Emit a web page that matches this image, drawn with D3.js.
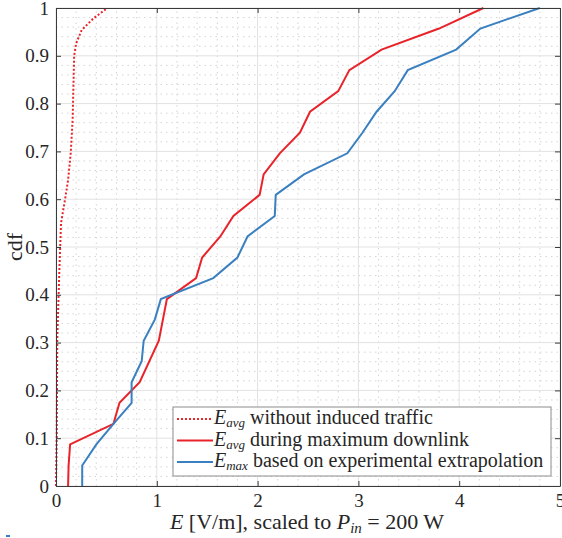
<!DOCTYPE html>
<html>
<head>
<meta charset="utf-8">
<script src="https://cdn.jsdelivr.net/npm/d3@7"></script>
<style>
  html, body { margin: 0; padding: 0; background: #fff; }
  svg { display: block; }
  svg text { font-family: 'Liberation Serif', serif; }
</style>
</head>
<body>
<div id="chart"></div>
<script>
const idleE   = [0.0, 0.007, 0.013, 0.033, 0.05, 0.09, 0.12, 0.146, 0.165, 0.18, 0.20, 0.255, 0.37, 0.51];
const idleCdf = [0.0, 0.10, 0.31, 0.45, 0.55, 0.60, 0.64, 0.696, 0.766, 0.90, 0.926, 0.954, 0.978, 1.0];

const dlE   = [0.12, 0.125, 0.14, 0.57, 0.63, 0.83, 1.02, 1.10, 1.39, 1.45, 1.63, 1.76, 2.02, 2.06, 2.22, 2.42, 2.52, 2.80, 2.91, 3.23, 3.80, 4.24];
const dlCdf = [0.0, 0.043, 0.087, 0.130, 0.174, 0.217, 0.304, 0.391, 0.435, 0.478, 0.522, 0.565, 0.609, 0.652, 0.696, 0.739, 0.783, 0.826, 0.870, 0.913, 0.957, 1.0];

const maxE   = [0.26, 0.26, 0.40, 0.57, 0.75, 0.75, 0.85, 0.87, 0.98, 1.04, 1.56, 1.80, 1.90, 2.17, 2.18, 2.46, 2.89, 3.04, 3.18, 3.36, 3.49, 3.97, 4.21, 4.80];
const maxCdf = [0.0, 0.043, 0.087, 0.130, 0.174, 0.217, 0.261, 0.304, 0.348, 0.391, 0.435, 0.478, 0.522, 0.565, 0.609, 0.652, 0.696, 0.739, 0.783, 0.826, 0.870, 0.913, 0.957, 1.0];

const xTicks = [0, 1, 2, 3, 4, 5];
const yTicks = [0, 0.1, 0.2, 0.3, 0.4, 0.5, 0.6, 0.7, 0.8, 0.9, 1];

const series = [
  { E: idleE, cdf: idleCdf, color: '#e8232a', dash: '2,2', sub: 'avg', label: ' without induced traffic' },
  { E: dlE,   cdf: dlCdf,   color: '#e8232a', dash: null,  sub: 'avg', label: ' during maximum downlink' },
  { E: maxE,  cdf: maxCdf,  color: '#3a80c0', dash: null,  sub: 'max', label: ' based on experimental extrapolation' }
];

const FONT = 'Liberation Serif, serif';
const W = 562, H = 538;
const M = { top: 8, right: 2, bottom: 52, left: 56 };

const svg = d3.select('#chart').append('svg').attr('width', W).attr('height', H)
  .attr('font-family', FONT);

const x = d3.scaleLinear().domain([0, 5]).range([M.left, W - M.right]);
const y = d3.scaleLinear().domain([0, 1]).range([H - M.bottom, M.top]);
const x0 = x.range()[0], x1 = x.range()[1], y0 = y.range()[0], y1 = y.range()[1];

// Minor grid (dotted)
const xMinor = d3.range(0, 5.0001, 0.2).filter(v => Math.abs(v - Math.round(v)) > 1e-6);
const yMinor = d3.range(0, 1.0001, 0.02).filter(v => Math.abs(v * 10 - Math.round(v * 10)) > 1e-6);
const grid = svg.append('g');
grid.selectAll('.gx-minor').data(xMinor).join('line')
  .attr('x1', d => x(d)).attr('x2', d => x(d)).attr('y1', y0).attr('y2', y1)
  .attr('stroke', '#d4d4d4').attr('stroke-width', 1).attr('stroke-dasharray', '1.5,4');
grid.selectAll('.gy-minor').data(yMinor).join('line')
  .attr('y1', d => y(d)).attr('y2', d => y(d)).attr('x1', x0).attr('x2', x1)
  .attr('stroke', '#d4d4d4').attr('stroke-width', 1).attr('stroke-dasharray', '1.5,4');

// Major grid (solid)
grid.selectAll('.gx').data(xTicks).join('line')
  .attr('x1', d => x(d)).attr('x2', d => x(d)).attr('y1', y0).attr('y2', y1)
  .attr('stroke', '#e2e2e2').attr('stroke-width', 1);
grid.selectAll('.gy').data(yTicks).join('line')
  .attr('y1', d => y(d)).attr('y2', d => y(d)).attr('x1', x0).attr('x2', x1)
  .attr('stroke', '#e2e2e2').attr('stroke-width', 1);

// Curves
const line = d3.line().x(d => x(d[0])).y(d => y(d[1]));
series.forEach(s => {
  svg.append('path').datum(d3.zip(s.E, s.cdf))
    .attr('d', line).attr('fill', 'none')
    .attr('stroke', s.color).attr('stroke-width', 2)
    .attr('stroke-dasharray', s.dash);
});

// Axes (ticks inside, box on)
const TL = 5;
const fmtY = d => d === 0 ? '0' : d === 1 ? '1' : d3.format('.1f')(d);
const axisStyle = g => {
  g.attr('font-family', FONT).attr('font-size', 19);
  g.select('.domain').attr('stroke', '#3a3a3a');
  g.selectAll('.tick line').attr('stroke', '#3a3a3a');
  g.selectAll('text').attr('fill', '#262626');
};
svg.append('g').attr('transform', `translate(0,${y0})`)
  .call(d3.axisBottom(x).tickValues(xTicks).tickFormat(d3.format('d')).tickSizeInner(-TL).tickSizeOuter(0).tickPadding(8))
  .call(axisStyle);
svg.append('g').attr('transform', `translate(0,${y1})`)
  .call(d3.axisTop(x).tickValues(xTicks).tickFormat('').tickSizeInner(-TL).tickSizeOuter(0))
  .call(axisStyle);
svg.append('g').attr('transform', `translate(${x0},0)`)
  .call(d3.axisLeft(y).tickValues(yTicks).tickFormat(fmtY).tickSizeInner(-TL).tickSizeOuter(0).tickPadding(7))
  .call(axisStyle);
svg.append('g').attr('transform', `translate(${x1},0)`)
  .call(d3.axisRight(y).tickValues(yTicks).tickFormat('').tickSizeInner(-TL).tickSizeOuter(0))
  .call(axisStyle);

// Axis labels
svg.append('text').attr('transform', `translate(22,${(y0 + y1) / 2}) rotate(-90)`)
  .attr('text-anchor', 'middle').attr('fill', '#262626').attr('font-size', 22).text('cdf');

const xl = svg.append('text').attr('x', 307).attr('y', 529)
  .attr('text-anchor', 'middle').attr('fill', '#262626').attr('font-size', 22);
xl.append('tspan').attr('font-style', 'italic').text('E');
xl.append('tspan').text(' [V/m], scaled to ');
xl.append('tspan').attr('font-style', 'italic').text('P');
xl.append('tspan').attr('font-style', 'italic').attr('font-size', 15).attr('dy', 4).text('in');
xl.append('tspan').attr('dy', -4).text(' = 200 W');

// Legend
const lg = svg.append('g').attr('transform', 'translate(173,407)');
lg.append('rect').attr('width', 378).attr('height', 69)
  .attr('fill', '#fff').attr('stroke', '#8c8c8c').attr('stroke-width', 1);
series.forEach((s, i) => {
  const ry = 12 + i * 21.5;
  lg.append('line').attr('x1', 4).attr('x2', 40).attr('y1', ry).attr('y2', ry)
    .attr('stroke', s.color).attr('stroke-width', 2).attr('stroke-dasharray', s.dash);
  const t = lg.append('text').attr('x', 41).attr('y', ry + 5)
    .attr('fill', '#262626').attr('font-size', 20);
  t.append('tspan').attr('font-style', 'italic').text('E');
  t.append('tspan').attr('font-style', 'italic').attr('font-size', 13).attr('dy', 3).text(s.sub);
  t.append('tspan').attr('dy', -3).text(s.label);
});

// small stray mark at bottom-left of the source figure
svg.append('rect').attr('x', 6).attr('y', 535).attr('width', 4).attr('height', 2).attr('fill', '#3a80c0');
</script>
</body>
</html>
